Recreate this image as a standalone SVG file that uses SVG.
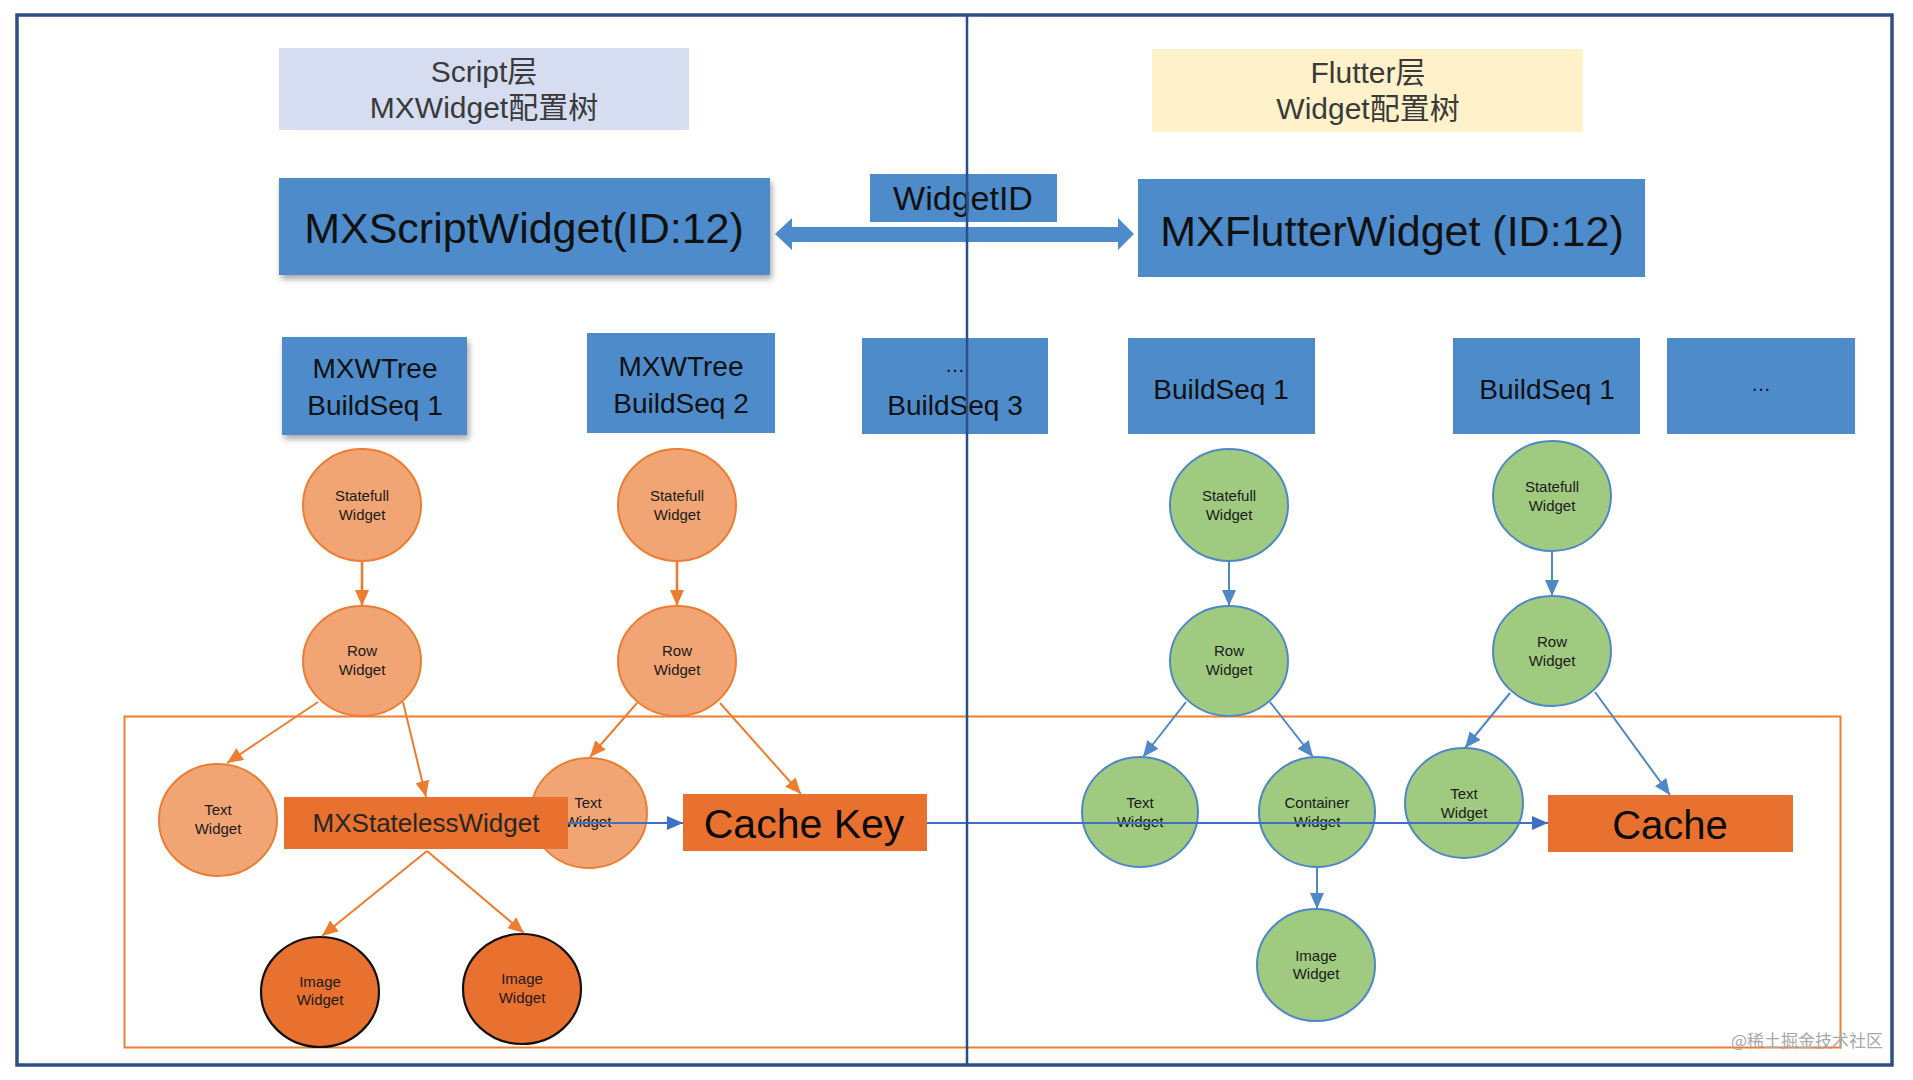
<svg xmlns="http://www.w3.org/2000/svg" width="1913" height="1080" viewBox="0 0 1913 1080">
<style>
.txt{font-family:"Liberation Sans","Noto Sans CJK SC",sans-serif;text-anchor:middle}
.hdr{font-size:30px;fill:#3a3a3a}
.big{font-size:43px;fill:#111}
.seq{font-size:28px;fill:#111}
.small{font-size:15px;fill:#1a1a1a}
.bluebox{fill:#4E8BCB}
.darko{fill:#E9712F}
.lighto{fill:#F1A574;stroke:#ED7D31;stroke-width:2}
.imgo{fill:#E9712F;stroke:#111;stroke-width:2.2}
.green{fill:#A0CA80;stroke:#4F88C6;stroke-width:2}
.oarr{stroke:#ED7D31;stroke-width:2;fill:none;marker-end:url(#ah-o)}
.barr{stroke:#4F88C6;stroke-width:2;fill:none;marker-end:url(#ah-b)}
.harr{stroke:#3D6FC6;stroke-width:2;fill:none;marker-end:url(#ah-h)}
</style>
<defs>
<marker id="ah-o" viewBox="0 0 16 14" refX="16" refY="7" markerWidth="16" markerHeight="14" markerUnits="userSpaceOnUse" orient="auto"><path d="M0,0 L16,7 L0,14 z" fill="#ED7D31"/></marker>
<marker id="ah-b" viewBox="0 0 16 14" refX="16" refY="7" markerWidth="16" markerHeight="14" markerUnits="userSpaceOnUse" orient="auto"><path d="M0,0 L16,7 L0,14 z" fill="#4F88C6"/></marker>
<marker id="ah-h" viewBox="0 0 16 14" refX="16" refY="7" markerWidth="16" markerHeight="14" markerUnits="userSpaceOnUse" orient="auto"><path d="M0,0 L16,7 L0,14 z" fill="#3D6FC6"/></marker>
<filter id="sh" x="-10%" y="-10%" width="125%" height="135%"><feDropShadow dx="2" dy="4" stdDeviation="3" flood-color="#000" flood-opacity="0.35"/></filter>
</defs>
<rect x="0" y="0" width="1913" height="1080" fill="#ffffff"/>
<rect x="17" y="15" width="1875" height="1050" fill="none" stroke="#2F4E86" stroke-width="3.5"/>
<rect x="124.5" y="716.5" width="1716" height="331" fill="none" stroke="#ED7D31" stroke-width="2"/>

<g id="n-script-layer">
<rect x="279" y="48" width="410" height="82" fill="#D6DDF1"/>
<text class="txt hdr" x="484" y="82">Script层</text>
<text class="txt hdr" x="484" y="118">MXWidget配置树</text>
</g>
<g id="n-flutter-layer">
<rect x="1152" y="49" width="431" height="83" fill="#FFF1C9"/>
<text class="txt hdr" x="1368" y="83">Flutter层</text>
<text class="txt hdr" x="1368" y="119">Widget配置树</text>
</g>
<g id="n-mxscript">
<rect class="bluebox" x="279" y="178" width="491" height="97" filter="url(#sh)"/>
<text class="txt big" x="524" y="243">MXScriptWidget(ID:12)</text>
</g>
<g id="n-widgetid">
<rect class="bluebox" x="870" y="174" width="187" height="48"/>
<text class="txt" x="963" y="210" style="font-size:34px;fill:#111">WidgetID</text>
</g>
<g id="n-mxflutter">
<rect class="bluebox" x="1138" y="179" width="507" height="98"/>
<text class="txt big" x="1392" y="246">MXFlutterWidget (ID:12)</text>
</g>

<g id="n-bs-s1">
<rect class="bluebox" x="282" y="337" width="185" height="98" filter="url(#sh)"/>
<text class="txt seq" x="375" y="378">MXWTree</text>
<text class="txt seq" x="375" y="415">BuildSeq 1</text>
</g>
<g id="n-bs-s2">
<rect class="bluebox" x="587" y="333" width="188" height="100"/>
<text class="txt seq" x="681" y="376">MXWTree</text>
<text class="txt seq" x="681" y="413">BuildSeq 2</text>
</g>
<g id="n-bs-s3">
<rect class="bluebox" x="862" y="338" width="186" height="96"/>
<text class="txt seq" x="955" y="372" style="font-size:20px">…</text>
<text class="txt seq" x="955" y="415">BuildSeq 3</text>
</g>
<g id="n-bs-f1">
<rect class="bluebox" x="1128" y="338" width="187" height="96"/>
<text class="txt seq" x="1221" y="399">BuildSeq 1</text>
</g>
<g id="n-bs-f2">
<rect class="bluebox" x="1453" y="338" width="187" height="96"/>
<text class="txt seq" x="1547" y="399">BuildSeq 1</text>
</g>
<g id="n-bs-f3">
<rect class="bluebox" x="1667" y="338" width="188" height="96"/>
<text class="txt seq" x="1761" y="391" style="font-size:20px">…</text>
</g>

<g id="n-s-stateful1">
<ellipse class="lighto" cx="362" cy="505" rx="59" ry="56"/>
<text class="txt small" x="362" y="501">Statefull</text>
<text class="txt small" x="362" y="520">Widget</text>
</g>
<g id="n-s-row1">
<ellipse class="lighto" cx="362" cy="661" rx="59" ry="55"/>
<text class="txt small" x="362" y="656">Row</text>
<text class="txt small" x="362" y="675">Widget</text>
</g>
<g id="n-s-text1">
<ellipse class="lighto" cx="218" cy="820" rx="59" ry="56"/>
<text class="txt small" x="218" y="815">Text</text>
<text class="txt small" x="218" y="834">Widget</text>
</g>
<g id="n-s-stateful2">
<ellipse class="lighto" cx="677" cy="505" rx="59" ry="56"/>
<text class="txt small" x="677" y="501">Statefull</text>
<text class="txt small" x="677" y="520">Widget</text>
</g>
<g id="n-s-row2">
<ellipse class="lighto" cx="677" cy="661" rx="59" ry="55"/>
<text class="txt small" x="677" y="656">Row</text>
<text class="txt small" x="677" y="675">Widget</text>
</g>
<g id="n-s-text2">
<ellipse class="lighto" cx="589" cy="813" rx="58" ry="55"/>
<text class="txt small" x="588" y="808">Text</text>
<text class="txt small" x="588" y="827">Widget</text>
</g>
<g id="n-mxstateless">
<rect class="darko" x="284" y="797" width="284" height="52"/>
<text class="txt" x="426" y="832" style="font-size:26px;fill:#262626">MXStatelessWidget</text>
</g>
<g id="n-s-image1">
<ellipse class="imgo" cx="320" cy="992" rx="59" ry="55"/>
<text class="txt small" x="320" y="987">Image</text>
<text class="txt small" x="320" y="1005">Widget</text>
</g>
<g id="n-s-image2">
<ellipse class="imgo" cx="522" cy="989" rx="59" ry="55"/>
<text class="txt small" x="522" y="984">Image</text>
<text class="txt small" x="522" y="1003">Widget</text>
</g>
<g id="n-cachekey">
<rect class="darko" x="683" y="794" width="244" height="57"/>
<text class="txt" x="804" y="838" style="font-size:41px;fill:#0a0a0a">Cache Key</text>
</g>

<g id="n-f-stateful1">
<ellipse class="green" cx="1229" cy="505" rx="59" ry="56"/>
<text class="txt small" x="1229" y="501">Statefull</text>
<text class="txt small" x="1229" y="520">Widget</text>
</g>
<g id="n-f-row1">
<ellipse class="green" cx="1229" cy="661" rx="59" ry="55"/>
<text class="txt small" x="1229" y="656">Row</text>
<text class="txt small" x="1229" y="675">Widget</text>
</g>
<g id="n-f-text1">
<ellipse class="green" cx="1140" cy="812" rx="58" ry="55"/>
<text class="txt small" x="1140" y="808">Text</text>
<text class="txt small" x="1140" y="827">Widget</text>
</g>
<g id="n-f-container">
<ellipse class="green" cx="1317" cy="812" rx="58" ry="55"/>
<text class="txt small" x="1317" y="808">Container</text>
<text class="txt small" x="1317" y="827">Widget</text>
</g>
<g id="n-f-image">
<ellipse class="green" cx="1316" cy="965" rx="59" ry="56"/>
<text class="txt small" x="1316" y="961">Image</text>
<text class="txt small" x="1316" y="979">Widget</text>
</g>
<g id="n-f-stateful2">
<ellipse class="green" cx="1552" cy="496" rx="59" ry="55"/>
<text class="txt small" x="1552" y="492">Statefull</text>
<text class="txt small" x="1552" y="511">Widget</text>
</g>
<g id="n-f-row2">
<ellipse class="green" cx="1552" cy="651" rx="59" ry="55"/>
<text class="txt small" x="1552" y="647">Row</text>
<text class="txt small" x="1552" y="666">Widget</text>
</g>
<g id="n-f-text2">
<ellipse class="green" cx="1464" cy="803" rx="59" ry="55"/>
<text class="txt small" x="1464" y="799">Text</text>
<text class="txt small" x="1464" y="818">Widget</text>
</g>
<g id="n-cache">
<rect class="darko" x="1548" y="795" width="245" height="57"/>
<text class="txt" x="1670" y="839" style="font-size:40px;fill:#0a0a0a">Cache</text>
</g>

<g id="connectors">
<path d="M775,234 L792,218 L792,227 L1118,227 L1118,218 L1134,234 L1118,250 L1118,242 L792,242 L792,250 Z" fill="#4E8BCB"/>
<line class="oarr" x1="362" y1="561" x2="362" y2="606" style="stroke-width:2.6"/>
<line class="oarr" x1="677" y1="561" x2="677" y2="606" style="stroke-width:2.6"/>
<line class="oarr" x1="318" y1="702" x2="227" y2="763"/>
<line class="oarr" x1="403" y1="702" x2="426" y2="797"/>
<line class="oarr" x1="637" y1="703" x2="590" y2="757"/>
<line class="oarr" x1="720" y1="703" x2="801" y2="794"/>
<line class="oarr" x1="427" y1="851" x2="322" y2="936"/>
<line class="oarr" x1="427" y1="851" x2="524" y2="933"/>
<line class="barr" x1="1229" y1="561" x2="1229" y2="606"/>
<line class="barr" x1="1552" y1="551" x2="1552" y2="596"/>
<line class="barr" x1="1186" y1="702" x2="1143" y2="757"/>
<line class="barr" x1="1270" y1="702" x2="1313" y2="757"/>
<line class="barr" x1="1317" y1="867" x2="1317" y2="909"/>
<line class="barr" x1="1510" y1="693" x2="1465" y2="748"/>
<line class="barr" x1="1595" y1="692" x2="1670" y2="795"/>
<line class="harr" x1="568" y1="823" x2="683" y2="823"/>
<line class="harr" x1="927" y1="823" x2="1548" y2="823"/>
</g>

<line x1="967" y1="15" x2="967" y2="1065" stroke="#2F4E86" stroke-width="2.5"/>
<text x="1883" y="1047" style="font-family:'Noto Sans CJK SC','Liberation Sans',sans-serif;font-size:17px;fill:#a8a8a8;text-anchor:end">@稀土掘金技术社区</text>
</svg>
